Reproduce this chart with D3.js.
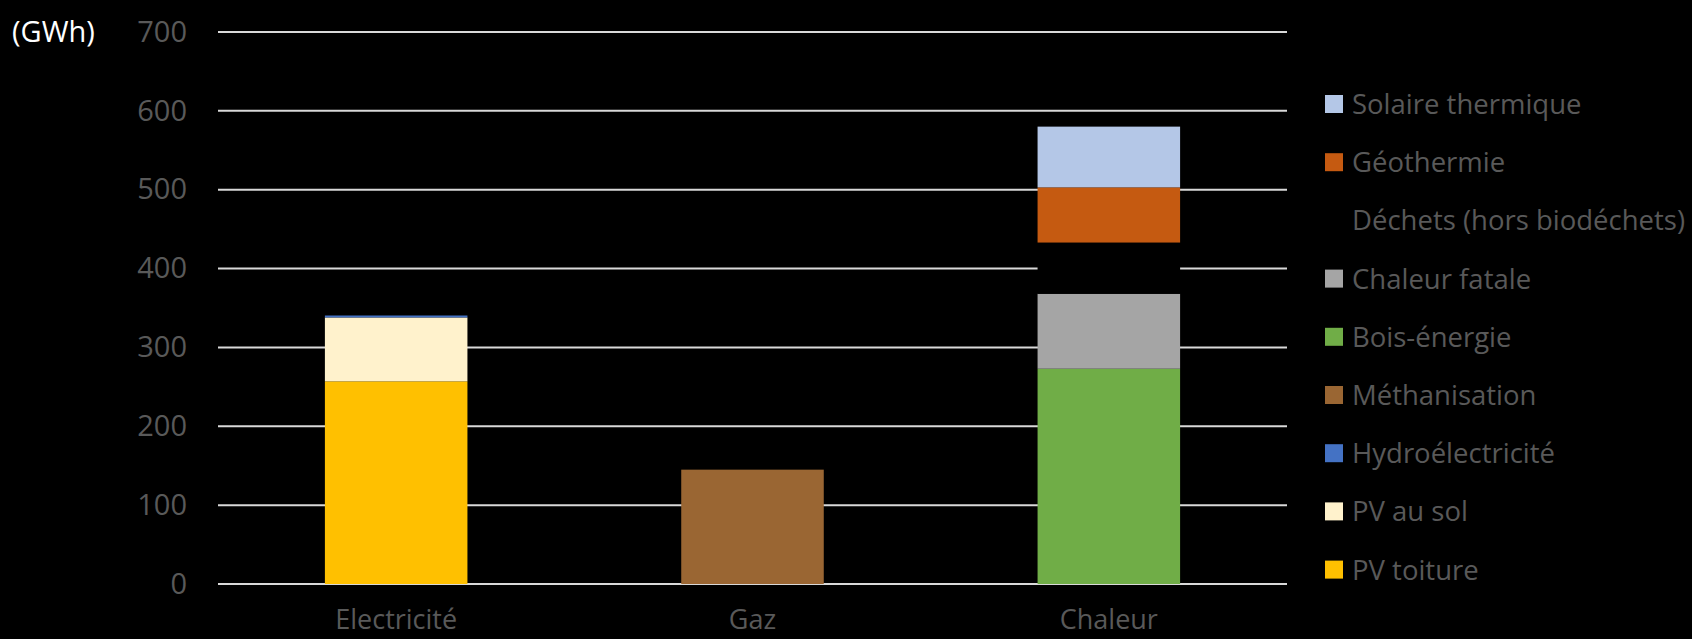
<!DOCTYPE html>
<html>
<head>
<meta charset="utf-8">
<script src="https://cdn.jsdelivr.net/npm/d3@7"></script>
<style>
  html, body { margin: 0; padding: 0; background: #000; }
  svg { display: block; }
  text { font-family: "Open Sans", sans-serif; }
</style>
</head>
<body>
<svg width="1692" height="639"></svg>
<script>
const categories = ['Electricité', 'Gaz', 'Chaleur']

// series in stacking order (bottom to top)
const series = [
  'PV toiture', 'PV au sol', 'Hydroélectricité', 'Méthanisation',
  'Bois-énergie', 'Chaleur fatale', 'Déchets (hors biodéchets)',
  'Géothermie', 'Solaire thermique'
]

// GWh per category: [Electricité, Gaz, Chaleur]
const pvToiture = [257, 0, 0]
const pvSol = [81, 0, 0]
const hydro = [2.5, 0, 0]
const methanisation = [0, 145, 0]
const bois = [0, 0, 273]
const chaleurFatale = [0, 0, 95]
const dechets = [0, 0, 65]
const geothermie = [0, 0, 70]
const solaire = [0, 0, 77]

const yTicks = [0, 100, 200, 300, 400, 500, 600, 700]

const colors = ['#ffc000', '#fff2cc', '#4472c4', '#9a6633', '#70ad47',
  '#a5a5a5', '#000000', '#c55a11', '#b4c7e7']

const values = [pvToiture, pvSol, hydro, methanisation, bois,
  chaleurFatale, dechets, geothermie, solaire]

const rows = categories.map((c, i) => {
  const row = { cat: c }
  series.forEach((s, j) => { row[s] = values[j][i] })
  return row
})

const svg = d3.select('svg')
const margin = { left: 218, right: 1287, top: 32, bottom: 584 }

const x = d3.scaleBand()
  .domain(categories)
  .range([margin.left, margin.right])
  .paddingInner(0.6)
  .paddingOuter(0.3)

const y = d3.scaleLinear()
  .domain([0, 700])
  .range([margin.bottom, margin.top])

const color = d3.scaleOrdinal().domain(series).range(colors)

// gridlines
svg.append('g')
  .selectAll('line')
  .data(yTicks)
  .join('line')
  .attr('x1', margin.left)
  .attr('x2', margin.right)
  .attr('y1', d => y(d))
  .attr('y2', d => y(d))
  .attr('stroke', '#d9d9d9')
  .attr('stroke-width', 2)

// y axis labels
const yAxis = svg.append('g')
  .attr('transform', `translate(${margin.left - 31},0)`)
  .call(d3.axisLeft(y).tickValues(yTicks).tickSize(0).tickPadding(0))
yAxis.select('.domain').remove()
yAxis.selectAll('text')
  .attr('fill', '#595959')
  .attr('font-size', 29)
  .attr('font-family', '"Open Sans", sans-serif')

svg.append('text')
  .attr('x', 12)
  .attr('y', 42)
  .attr('fill', '#ffffff')
  .attr('font-size', 29)
  .text('(GWh)')

// stacked bars
const stacked = d3.stack().keys(series)(rows)

svg.append('g')
  .selectAll('g')
  .data(stacked)
  .join('g')
  .attr('fill', d => color(d.key))
  .selectAll('rect')
  .data(d => d.filter(p => p[1] - p[0] > 0))
  .join('rect')
  .attr('x', d => x(d.data.cat))
  .attr('width', x.bandwidth())
  .attr('y', d => y(d[1]))
  .attr('height', d => y(d[0]) - y(d[1]))

// x axis labels
const xAxis = svg.append('g')
  .attr('transform', `translate(0,${margin.bottom + 45})`)
  .call(d3.axisBottom(x).tickSize(0).tickPadding(0))
xAxis.select('.domain').remove()
xAxis.selectAll('text')
  .attr('fill', '#595959')
  .attr('font-size', 27)
  .attr('dy', 0)
  .attr('font-family', '"Open Sans", sans-serif')

// legend, top item is last series
const legendItems = series.slice().reverse()
const legend = svg.append('g')
  .selectAll('g')
  .data(legendItems)
  .join('g')
  .attr('transform', (d, i) => `translate(1325,${104 + i * 58.2})`)

legend.append('rect')
  .attr('y', -9)
  .attr('width', 18)
  .attr('height', 18)
  .attr('fill', d => color(d))

legend.append('text')
  .attr('x', 27)
  .attr('y', 10)
  .attr('fill', '#595959')
  .attr('font-size', 27.5)
  .text(d => d)
</script>
</body>
</html>
